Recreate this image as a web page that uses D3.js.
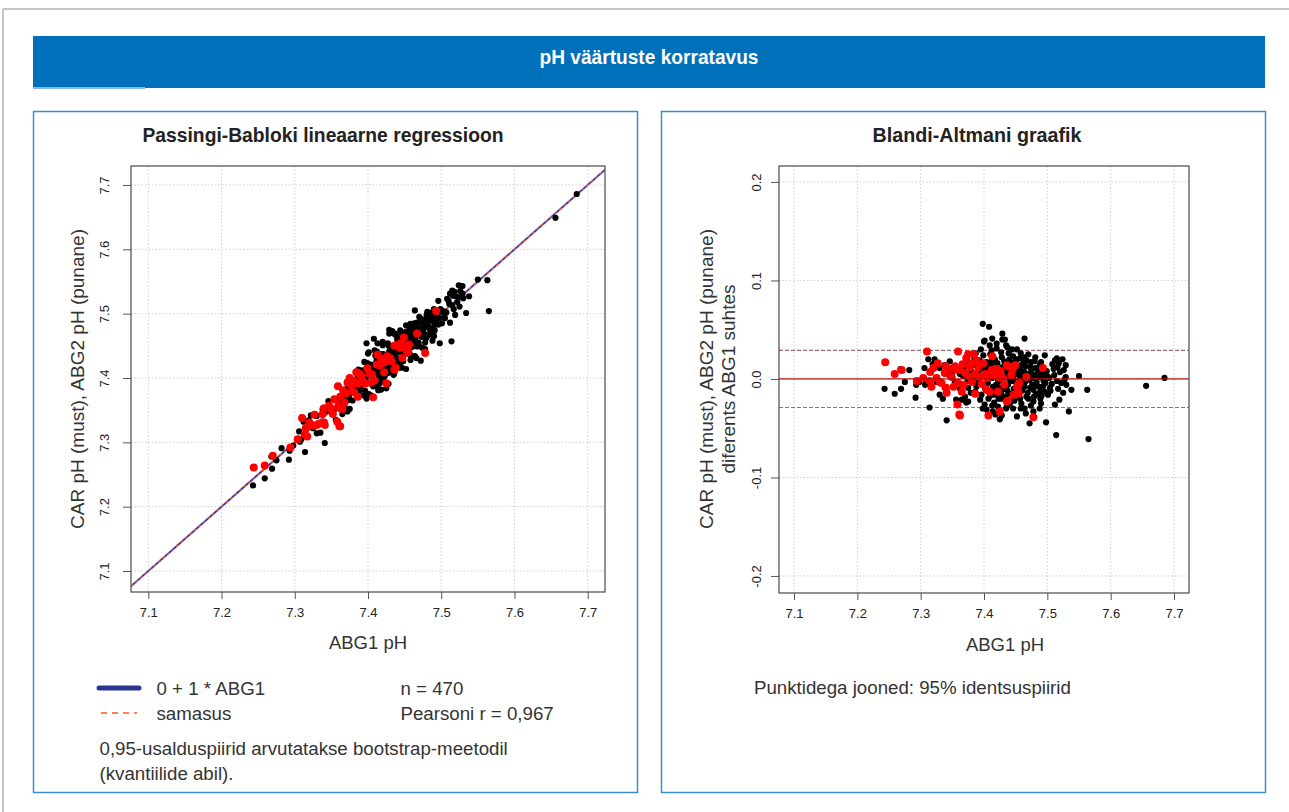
<!DOCTYPE html>
<html>
<head>
<meta charset="utf-8">
<script src="https://cdn.jsdelivr.net/npm/d3@7"></script>
<style>
  body { margin: 0; background: #fff; }
  text { font-family: "Liberation Sans", Arial, sans-serif; fill: #333; }
  .ttl { font-family: "Liberation Sans Narrow", "Liberation Sans", sans-serif; font-weight: bold; }
</style>
</head>
<body>
<svg id="chart" width="1289" height="812"></svg>
<script>
// ---- data ----
const pageTitle = "pH väärtuste korratavus";
const pbTitle = "Passingi-Babloki lineaarne regressioon";
const baTitle = "Blandi-Altmani graafik";
const xTicks = [7.1, 7.2, 7.3, 7.4, 7.5, 7.6, 7.7];
const pbYTicks = [7.1, 7.2, 7.3, 7.4, 7.5, 7.6, 7.7];
const baYTicks = [-0.2, -0.1, 0.0, 0.1, 0.2];

// Passing-Bablok fit: intercept, slope; narrow CI band around it
const pbFit = { intercept: 0, slope: 1 };
const pbBand = [-0.003, 0.003];
// Bland-Altman: mean difference and 95% limits
const baMean = 0.0;
const baLimits = [-0.029, 0.029];

// [ABG1 pH, difference (CAR / ABG2 - ABG1)]
const blackPoints = [
  [7.243,-0.010],[7.259,-0.015],[7.269,-0.010],[7.275,-0.003],[7.268,0.010],[7.282,0.009],[7.293,-0.006],
  [7.292,-0.019],[7.314,-0.029],[7.341,-0.042],[7.356,-0.021],[7.372,-0.024],[7.398,0.056],[7.408,0.053],
  [7.429,0.046],[7.429,0.040],[7.413,0.041],[7.400,0.038],[7.435,0.034],[7.409,0.034],[7.412,0.029],
  [7.464,0.041],[7.496,0.024],[7.508,0.015],[7.518,0.016],[7.529,0.014],[7.515,0.021],[7.550,0.003],
  [7.538,-0.011],[7.563,-0.011],[7.534,-0.033],[7.519,-0.021],[7.525,-0.014],[7.472,-0.045],[7.498,-0.044],
  [7.514,-0.057],[7.565,-0.061],[7.656,-0.007],[7.685,0.001],[7.425,-0.041],[7.413,-0.027],[7.435,-0.030],
  [7.312,0.020],[7.322,0.020],[7.319,0.015],[7.306,0.011],[7.346,0.018],[7.304,0.001],[7.309,-0.004],
  [7.520,0.007],[7.529,0.002],[7.527,-0.001],[7.515,-0.002],[7.530,-0.006],[7.517,-0.010],[7.504,-0.009],
  [7.493,-0.008],[7.501,-0.016],[7.491,-0.017],
  [7.401,0.039],[7.433,0.040],[7.420,0.031],[7.428,0.022],[7.446,0.023],[7.457,0.021],[7.467,0.019],
  [7.480,0.018],[7.488,0.014],[7.459,0.014],[7.441,0.015],[7.433,0.011],[7.451,0.009],[7.464,0.007],
  [7.475,0.009],[7.485,0.006],[7.493,0.001],[7.433,0.002],[7.446,0.001],[7.459,-0.001],[7.472,-0.001],
  [7.483,-0.003],[7.491,-0.008],[7.438,-0.006],[7.451,-0.008],[7.464,-0.008],[7.478,-0.011],[7.485,-0.015],
  [7.441,-0.015],[7.454,-0.016],[7.467,-0.018],[7.428,-0.020],[7.417,-0.016],[7.407,-0.020],[7.396,-0.016],
  [7.386,-0.013],[7.375,-0.009],[7.370,-0.018],[7.401,-0.026],[7.422,-0.028],[7.441,-0.025],[7.459,-0.025],
  [7.478,-0.023],[7.488,-0.030],[7.428,-0.037],[7.478,-0.033],[7.464,-0.030],[7.414,-0.033],[7.375,-0.023],
  [7.365,-0.021],[7.412,0.018],[7.420,0.009],[7.407,0.004],[7.422,-0.003],[7.414,-0.008],[7.401,0.011],
  [7.393,0.019],[7.386,0.014],
  [7.330,-0.016],[7.330,0.011],[7.338,0.014],[7.354,-0.003],[7.349,0.006],[7.307,-0.006],[7.298,-0.003],
  [7.325,-0.003],[7.338,-0.009],
  [7.395,0.010],[7.405,0.015],[7.418,0.013],[7.425,0.005],[7.432,-0.010],[7.440,0.020],[7.445,-0.002],
  [7.450,0.018],[7.455,0.004],[7.460,-0.012],[7.462,0.016],[7.468,0.002],[7.470,-0.020],[7.473,0.012],
  [7.476,-0.006],[7.480,0.004],[7.482,-0.016],[7.486,0.010],[7.489,-0.020],[7.492,0.006],[7.497,-0.004],
  [7.500,0.003],[7.505,-0.012],[7.510,0.010],[7.512,-0.026],[7.416,-0.024],[7.427,-0.015],[7.436,-0.028],
  [7.448,-0.022],[7.458,0.026],[7.470,0.025],[7.390,-0.004],[7.380,0.008],[7.367,0.003],[7.362,-0.010],
  [7.345,0.004],[7.335,-0.020],[7.398,-0.030],[7.410,0.025],[7.444,0.030],[7.481,0.022],[7.466,-0.035],
  [7.452,-0.038],
  [7.362,0.005],[7.366,-0.006],[7.371,0.012],[7.374,-0.002],[7.377,0.016],[7.379,-0.014],[7.383,0.001],
  [7.385,0.021],[7.388,-0.008],[7.391,0.008],[7.394,-0.021],[7.397,0.003],[7.399,0.024],[7.402,-0.010],
  [7.404,0.017],[7.406,-0.004],[7.408,0.009],[7.410,-0.017],[7.411,0.013],[7.413,0.001],[7.415,-0.012],
  [7.417,0.020],[7.419,-0.006],[7.421,0.016],[7.423,-0.020],[7.424,0.007],[7.426,-0.009],[7.427,0.027],
  [7.429,0.012],[7.431,-0.004],[7.432,0.018],[7.434,-0.018],[7.436,0.006],[7.437,-0.012],[7.439,0.026],
  [7.440,0.000],[7.442,0.010],[7.443,-0.022],[7.445,0.016],[7.447,-0.010],[7.448,0.005],[7.450,-0.002],
  [7.452,0.020],[7.453,-0.013],[7.455,0.010],[7.457,-0.020],[7.458,0.002],[7.460,0.008],[7.461,-0.006],
  [7.463,0.022],[7.465,-0.003],[7.466,0.013],[7.469,-0.014],[7.471,0.005],[7.473,-0.009],[7.474,0.017],
  [7.477,0.001],[7.479,-0.018],[7.481,0.011],[7.484,-0.007],[7.487,0.002],[7.489,-0.012],[7.490,0.017],
  [7.494,-0.002],[7.496,-0.013],[7.499,0.008],[7.503,0.001],[7.507,-0.005],[7.511,0.004],[7.516,0.012],
  [7.522,-0.004],[7.526,0.009],[7.420,0.036],[7.452,0.030],[7.437,0.032],[7.395,0.030],[7.387,0.026],
  [7.458,-0.030],[7.446,-0.030],[7.404,-0.031],[7.418,-0.036],[7.490,-0.025],[7.474,-0.027],[7.512,0.019],
  [7.524,0.020]
];
const redPoints = [
  [7.244,0.017],[7.259,0.005],[7.270,0.009],[7.294,-0.002],[7.310,0.028],[7.315,0.007],[7.304,0.001],
  [7.314,-0.002],[7.325,0.001],[7.333,-0.004],[7.340,0.013],[7.340,-0.009],[7.341,-0.014],[7.349,0.002],
  [7.357,0.009],[7.354,0.013],[7.358,-0.026],[7.361,-0.036],[7.320,0.011],[7.330,-0.003],
  [7.359,0.028],[7.375,0.025],[7.384,0.025],[7.388,0.019],[7.372,0.021],[7.380,0.016],[7.362,0.009],
  [7.370,0.006],[7.378,0.002],[7.386,0.005],[7.393,0.002],[7.402,0.005],[7.412,0.009],[7.420,0.010],
  [7.413,0.023],[7.436,0.014],[7.449,0.014],[7.443,0.004],[7.422,0.002],[7.430,0.001],[7.404,-0.011],
  [7.409,-0.013],[7.422,-0.013],[7.454,-0.006],[7.454,-0.013],[7.436,-0.023],[7.425,-0.033],[7.407,-0.037],
  [7.362,-0.037],[7.478,-0.039],[7.493,0.011],[7.365,-0.013],[7.386,-0.015],[7.359,-0.004],
  [7.467,0.002],[7.456,-0.004],[7.452,-0.008],[7.455,-0.015],[7.438,-0.022],[7.438,0.013],[7.419,0.010],
  [7.347,0.010],[7.352,-0.008],[7.366,0.015],[7.368,-0.006],[7.377,0.012],[7.381,-0.003],[7.391,0.012],
  [7.396,-0.005],[7.399,0.016],[7.405,0.001],[7.416,0.004],[7.426,0.008],[7.432,-0.006],[7.445,0.009],
  [7.447,-0.016],[7.338,0.006],[7.327,0.016],[7.317,-0.008]
];

const legendFit = "0 + 1 * ABG1";
const legendIdentity = "samasus";
const statN = "n = 470";
const statR = "Pearsoni r = 0,967";
const noteLines = ["0,95-usalduspiirid arvutatakse bootstrap-meetodil", "(kvantiilide abil)."];
const baNote = "Punktidega jooned: 95% identsuspiirid";

const svg = d3.select("#chart");

// page frame + banner
svg.append("line").attr("x1", 3).attr("x2", 1289).attr("y1", 9).attr("y2", 9)
  .attr("stroke", "#c6c6c6").attr("stroke-width", 2);
svg.append("line").attr("x1", 3).attr("x2", 3).attr("y1", 9).attr("y2", 812)
  .attr("stroke", "#c6c6c6").attr("stroke-width", 2);
svg.append("rect").attr("x", 33).attr("y", 36).attr("width", 1232).attr("height", 52).attr("fill", "#0070ba");
svg.append("rect").attr("x", 33).attr("y", 87).attr("width", 112).attr("height", 2).attr("fill", "#8cb9e2");
svg.append("text").attr("class", "ttl").attr("x", 649).attr("y", 56)
  .attr("text-anchor", "middle").attr("dominant-baseline", "central")
  .attr("textLength", 219).attr("lengthAdjust", "spacingAndGlyphs")
  .style("fill", "#fff").style("font-size", "21px").text(pageTitle);

[[33.5, 111.5], [661.5, 111.5]].forEach(([px, py]) => {
  svg.append("rect").attr("x", px).attr("y", py).attr("width", 604).attr("height", 681)
    .attr("fill", "none").attr("stroke", "#3b8dd0").attr("stroke-width", 1.5);
});

function makeFrame(cfg) {
  const x = d3.scaleLinear().domain(cfg.xDomain).range([cfg.left, cfg.right]);
  const y = d3.scaleLinear().domain(cfg.yDomain).range([cfg.bottom, cfg.top]);
  const g = svg.append("g");

  // dotted grid
  g.selectAll(".gx").data(xTicks).enter().append("line")
    .attr("x1", d => x(d)).attr("x2", d => x(d)).attr("y1", cfg.top).attr("y2", cfg.bottom)
    .attr("stroke", "#cfcfcf").attr("stroke-dasharray", "1.5,2");
  g.selectAll(".gy").data(cfg.yTicks).enter().append("line")
    .attr("x1", cfg.left).attr("x2", cfg.right).attr("y1", d => y(d)).attr("y2", d => y(d))
    .attr("stroke", "#cfcfcf").attr("stroke-dasharray", "1.5,2");

  const xa = g.append("g").attr("transform", `translate(0,${cfg.bottom})`)
    .call(d3.axisBottom(x).tickValues(xTicks).tickSize(7).tickPadding(9).tickFormat(d3.format(".1f")));
  xa.select(".domain").remove();
  xa.selectAll("line").attr("stroke", "#555");
  xa.selectAll("text").style("font-size", "13px").style("fill", "#222");

  const ya = g.append("g").attr("transform", `translate(${cfg.left},0)`)
    .call(d3.axisLeft(y).tickValues(cfg.yTicks).tickSize(8).tickFormat(d => d.toFixed(1)));
  ya.select(".domain").remove();
  ya.selectAll("line").attr("stroke", "#555");
  ya.selectAll("text").attr("transform", "rotate(-90)").attr("x", 0).attr("y", -cfg.yLabelOff)
    .attr("dy", 0).attr("text-anchor", "middle").style("font-size", "13px").style("fill", "#222");

  const clipId = "clip" + cfg.left;
  svg.append("clipPath").attr("id", clipId).append("rect")
    .attr("x", cfg.left).attr("y", cfg.top).attr("width", cfg.right - cfg.left).attr("height", cfg.bottom - cfg.top);
  const plot = svg.append("g").attr("clip-path", `url(#${clipId})`);

  return { x, y, g, plot, cfg };
}

function drawBox(f) {
  const c = f.cfg;
  svg.append("rect").attr("x", c.left).attr("y", c.top).attr("width", c.right - c.left).attr("height", c.bottom - c.top)
    .attr("fill", "none").attr("stroke", "#4a4a4a").attr("stroke-width", 1.2);
}

// ---- Passing-Bablok panel ----
const pb = makeFrame({
  left: 131, right: 605, top: 166, bottom: 592,
  xDomain: [7.0764, 7.7236], yDomain: [7.0674, 7.7295],
  yTicks: pbYTicks, yLabelOff: 22
});
const fitLine = d3.line().x(d => pb.x(d)).y(d => pb.y(pbFit.intercept + pbFit.slope * d));
const band = d3.area().x(d => pb.x(d))
  .y0(d => pb.y(pbFit.intercept + pbFit.slope * d + pbBand[0]))
  .y1(d => pb.y(pbFit.intercept + pbFit.slope * d + pbBand[1]));
const xEnds = pb.x.domain();
pb.plot.append("path").datum(xEnds).attr("d", band).attr("fill", "#ddd2ec");
pb.plot.append("path").datum(xEnds).attr("d", fitLine).attr("stroke", "#2d2f96").attr("stroke-width", 1.6).attr("fill", "none");
pb.plot.append("path").datum(xEnds).attr("d", d3.line().x(d => pb.x(d)).y(d => pb.y(d)))
  .attr("stroke", "#ff5a1f").attr("stroke-width", 1.1).attr("stroke-dasharray", "3,3").attr("fill", "none");

pb.plot.selectAll(".pbk").data(blackPoints).enter().append("circle")
  .attr("cx", d => pb.x(d[0])).attr("cy", d => pb.y(d[0] + d[1])).attr("r", 3.1).attr("fill", "#000");
pb.plot.selectAll(".pbr").data(redPoints).enter().append("circle")
  .attr("cx", d => pb.x(d[0])).attr("cy", d => pb.y(d[0] + d[1])).attr("r", 4).attr("fill", "#ff0000");
drawBox(pb);

svg.append("text").attr("class", "ttl").attr("x", 323).attr("y", 134)
  .attr("text-anchor", "middle").attr("dominant-baseline", "central")
  .attr("textLength", 361).attr("lengthAdjust", "spacingAndGlyphs")
  .style("font-size", "21px").style("fill", "#222").text(pbTitle);
svg.append("text").attr("x", 368).attr("y", 642).attr("text-anchor", "middle").attr("dominant-baseline", "central")
  .style("font-size", "18.5px").text("ABG1 pH");
svg.append("text").attr("transform", "translate(77,379) rotate(-90)").attr("text-anchor", "middle")
  .attr("dominant-baseline", "central").style("font-size", "19px").text("CAR pH (must), ABG2 pH (punane)");

// legend
svg.append("line").attr("x1", 99).attr("x2", 139).attr("y1", 688).attr("y2", 688)
  .attr("stroke", "#2b3490").attr("stroke-width", 5).attr("stroke-linecap", "round");
svg.append("line").attr("x1", 101).attr("x2", 137).attr("y1", 713).attr("y2", 713)
  .attr("stroke", "#ff5a1f").attr("stroke-width", 1.5).attr("stroke-dasharray", "6,5");
const legRows = [[156.5, 688, legendFit], [156.5, 713, legendIdentity], [400.5, 688, statN], [400.5, 713, statR],
  [99.5, 748, noteLines[0]], [99.5, 773, noteLines[1]]];
svg.selectAll(".leg").data(legRows).enter().append("text")
  .attr("x", d => d[0]).attr("y", d => d[1]).attr("dominant-baseline", "central")
  .style("font-size", "18.7px").text(d => d[2]);

// ---- Bland-Altman panel ----
const ba = makeFrame({
  left: 779, right: 1189, top: 166, bottom: 593,
  xDomain: [7.0763, 7.7237], yDomain: [-0.2173, 0.2162],
  yTicks: baYTicks, yLabelOff: 18
});
baLimits.forEach(v => {
  ba.plot.append("line").attr("x1", 779).attr("x2", 1189).attr("y1", ba.y(v)).attr("y2", ba.y(v))
    .attr("stroke", "#a86870").attr("stroke-width", 1.2).attr("stroke-dasharray", "4,2");
});
ba.plot.selectAll(".bak").data(blackPoints).enter().append("circle")
  .attr("cx", d => ba.x(d[0])).attr("cy", d => ba.y(d[1])).attr("r", 3.1).attr("fill", "#000");
ba.plot.selectAll(".bar").data(redPoints).enter().append("circle")
  .attr("cx", d => ba.x(d[0])).attr("cy", d => ba.y(d[1])).attr("r", 4).attr("fill", "#ff0000");
ba.plot.append("line").attr("x1", 779).attr("x2", 1189).attr("y1", ba.y(baMean)).attr("y2", ba.y(baMean))
  .attr("stroke", "#b01010").attr("stroke-width", 1.3);
drawBox(ba);

svg.append("text").attr("class", "ttl").attr("x", 977).attr("y", 134)
  .attr("text-anchor", "middle").attr("dominant-baseline", "central")
  .attr("textLength", 209).attr("lengthAdjust", "spacingAndGlyphs")
  .style("font-size", "21px").style("fill", "#222").text(baTitle);
svg.append("text").attr("x", 1005).attr("y", 644).attr("text-anchor", "middle").attr("dominant-baseline", "central")
  .style("font-size", "18.5px").text("ABG1 pH");
svg.append("text").attr("transform", "translate(706,379) rotate(-90)").attr("text-anchor", "middle")
  .attr("dominant-baseline", "central").style("font-size", "19px").text("CAR pH (must), ABG2 pH (punane)");
svg.append("text").attr("transform", "translate(728,379) rotate(-90)").attr("text-anchor", "middle")
  .attr("dominant-baseline", "central").style("font-size", "19px").text("diferents ABG1 suhtes");
svg.append("text").attr("x", 754).attr("y", 687).attr("dominant-baseline", "central")
  .style("font-size", "18.7px").text(baNote);
</script>
</body>
</html>
